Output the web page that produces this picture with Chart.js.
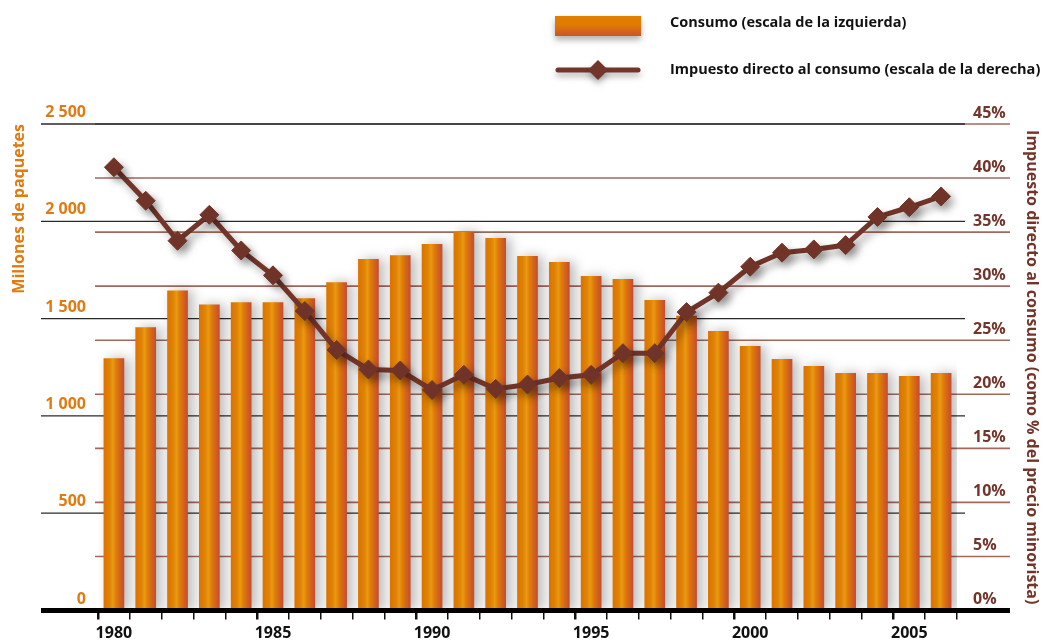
<!DOCTYPE html>
<html>
<head>
<meta charset="utf-8">
<script src="https://cdn.jsdelivr.net/npm/chart.js@4"></script>
<style>
  html, body { margin: 0; padding: 0; background: #fff; }
  #wrap { width: 1044px; height: 641px; position: relative; }
</style>
</head>
<body>
<div id="wrap"><canvas id="myChart"></canvas></div>
<script>
// data
const years = [1980, 1981, 1982, 1983, 1984, 1985, 1986, 1987, 1988, 1989,
  1990, 1991, 1992, 1993, 1994, 1995, 1996, 1997, 1998, 1999,
  2000, 2001, 2002, 2003, 2004, 2005, 2006];
const consumo = [1296, 1455, 1645, 1573, 1584, 1584, 1604, 1687, 1806, 1825,
  1883, 1945, 1914, 1822, 1791, 1719, 1703, 1596, 1515, 1436,
  1359, 1292, 1256, 1220, 1220, 1205, 1220];
const impuesto = [41.0, 37.9, 34.2, 36.6, 33.3, 31.0, 27.7, 24.1, 22.3, 22.2,
  20.4, 21.8, 20.5, 20.9, 21.5, 21.8, 23.8, 23.8, 27.6, 29.4,
  31.8, 33.1, 33.4, 33.8, 36.4, 37.3, 38.3];
const leftTicks = [0, 500, 1000, 1500, 2000, 2500];
const rightTicks = [0, 5, 10, 15, 20, 25, 30, 35, 40, 45];

const orange = '#e07b12';
const brown = '#73352a';
Chart.defaults.font.family = "'Open Sans', sans-serif";

function thousands(v) {
  return String(v).replace(/\B(?=(\d{3})+(?!\d))/g, ' ');
}

function barGradient(c) {
  const chart = c.chart;
  const xs = chart.scales.x;
  if (!xs || !chart.chartArea) return '#e07800';
  const cx = xs.getPixelForValue(c.dataIndex);
  const w = (xs.width / years.length) * 0.65;
  const g = chart.ctx.createLinearGradient(cx - w / 2, 0, cx + w / 2, 0);
  g.addColorStop(0, '#db7200');
  g.addColorStop(0.3, '#e08306');
  g.addColorStop(0.45, '#e99a12');
  g.addColorStop(0.6, '#e07d08');
  g.addColorStop(0.82, '#d2601f');
  g.addColorStop(1, '#c44c30');
  return g;
}

// grid lines of both scales, with their own extents, and the thick base line
const refGrid = {
  id: 'refGrid',
  beforeDatasetsDraw(chart) {
    const {ctx, chartArea: a} = chart;
    const yl = chart.scales.yL, yr = chart.scales.yR;
    ctx.save();
    ctx.strokeStyle = '#a3685c';
    ctx.lineWidth = 1.6;
    rightTicks.forEach(v => {
      if (v === 0) return;
      const y = yr.getPixelForValue(v);
      ctx.beginPath(); ctx.moveTo(a.left - 3, y); ctx.lineTo(a.right + 53, y); ctx.stroke();
    });
    ctx.strokeStyle = '#2a2a2a';
    ctx.lineWidth = 1.3;
    leftTicks.forEach(v => {
      if (v === 0) return;
      const y = yl.getPixelForValue(v);
      ctx.beginPath(); ctx.moveTo(a.left - 57, y); ctx.lineTo(a.right + 8, y); ctx.stroke();
    });
    ctx.restore();
  },
  afterDatasetsDraw(chart) {
    const {ctx, chartArea: a} = chart;
    const y = chart.scales.yL.getPixelForValue(0);
    ctx.save();
    ctx.strokeStyle = '#000';
    ctx.lineWidth = 5;
    ctx.beginPath(); ctx.moveTo(a.left - 57, y); ctx.lineTo(a.right + 53, y); ctx.stroke();
    ctx.restore();
  }
};

// soft drop shadows under bars and line
const shadows = {
  id: 'shadows',
  beforeDatasetDraw(chart, args) {
    const ctx = chart.ctx;
    const isLine = chart.data.datasets[args.index].type === 'line';
    ctx.save();
    ctx.shadowColor = isLine ? 'rgba(0,0,0,0.35)' : 'rgba(0,0,0,0.28)';
    ctx.shadowBlur = isLine ? 8 : 12;
    ctx.shadowOffsetX = isLine ? 4 : 5;
    ctx.shadowOffsetY = isLine ? 5 : 0;
  },
  afterDatasetDraw(chart) {
    chart.ctx.restore();
  }
};

const refLegend = {
  id: 'refLegend',
  afterDraw(chart) {
    const ctx = chart.ctx;
    const lineDs = chart.data.datasets[0], barDs = chart.data.datasets[1];
    ctx.save();
    ctx.shadowColor = 'rgba(0,0,0,0.3)';
    ctx.shadowBlur = 6;
    ctx.shadowOffsetY = 4;
    const g = ctx.createLinearGradient(0, 16, 0, 36);
    g.addColorStop(0, '#e27e00');
    g.addColorStop(0.45, '#e07a04');
    g.addColorStop(1, '#c9542d');
    ctx.fillStyle = g;
    ctx.fillRect(555, 16, 86, 20);
    ctx.strokeStyle = brown;
    ctx.lineWidth = 5;
    ctx.lineCap = 'round';
    ctx.beginPath(); ctx.moveTo(558, 70); ctx.lineTo(638, 70); ctx.stroke();
    ctx.fillStyle = brown;
    ctx.beginPath();
    ctx.moveTo(598, 60); ctx.lineTo(608, 70); ctx.lineTo(598, 80); ctx.lineTo(588, 70);
    ctx.closePath(); ctx.fill();
    ctx.shadowColor = 'transparent';
    ctx.fillStyle = '#111';
    ctx.font = "bold 14.5px 'Open Sans', sans-serif";
    ctx.textBaseline = 'middle';
    ctx.fillText(barDs.label, 670, 23);
    ctx.fillText(lineDs.label, 670, 70);
    ctx.restore();
  }
};

const ctx = document.getElementById('myChart').getContext('2d');
const myChart = new Chart(ctx, {
  type: 'bar',
  data: {
    labels: years,
    datasets: [{
      type: 'line',
      label: 'Impuesto directo al consumo (escala de la derecha)',
      data: impuesto,
      yAxisID: 'yR',
      borderColor: brown,
      borderWidth: 5,
      pointStyle: 'rectRot',
      pointRadius: 9.5,
      pointBackgroundColor: brown,
      pointBorderColor: brown,
      pointBorderWidth: 1,
      tension: 0,
      order: 0
    }, {
      type: 'bar',
      label: 'Consumo (escala de la izquierda)',
      data: consumo,
      yAxisID: 'yL',
      backgroundColor: barGradient,
      barPercentage: 0.65,
      categoryPercentage: 1,
      order: 1
    }]
  },
  options: {
    responsive: true,
    maintainAspectRatio: false,
    animation: false,
    layout: { padding: { top: 124, left: 0, right: 0, bottom: 0 } },
    plugins: {
      legend: { display: false },
      tooltip: { enabled: false }
    },
    scales: {
      x: {
        grid: {
          display: true, drawOnChartArea: false, drawTicks: true, tickLength: 9, offset: true,
          color: '#111', lineWidth: c => (c.index % 5 === 0 ? 2.5 : 1.5)
        },
        border: { display: false },
        ticks: {
          autoSkip: false, maxRotation: 0, padding: 4, color: '#111',
          font: { size: 16, weight: 'bold' },
          callback: (v, i) => (years[i] % 5 === 0 ? String(years[i]) : '')
        },
        afterFit: s => { s.height = 30.5; }
      },
      yL: {
        position: 'left', min: 0, max: 2500,
        grid: { display: false, drawTicks: false },
        border: { display: false },
        ticks: {
          stepSize: 500, padding: 12, labelOffset: -11.5, color: orange,
          font: { size: 16, weight: 'bold' },
          callback: v => thousands(v)
        },
        title: {
          display: true, text: 'Millones de paquetes', align: 'end', color: orange,
          font: { size: 16, weight: 'bold' }, padding: { top: 10, bottom: 0 }
        },
        afterFit: s => { s.width = 98; }
      },
      yR: {
        position: 'right', min: 0, max: 45,
        grid: { display: false, drawTicks: false },
        border: { display: false },
        ticks: {
          stepSize: 5, padding: 16, labelOffset: -11, color: brown,
          font: { size: 16, weight: 'bold' },
          callback: v => v + '%'
        },
        title: {
          display: true, text: 'Impuesto directo al consumo (como % del precio minorista)', color: brown,
          font: { size: 16, weight: 'bold' }, padding: { top: 3, bottom: 0 }
        },
        afterFit: s => { s.width = 87; }
      }
    }
  },
  plugins: [refGrid, shadows, refLegend]
});
</script>
</body>
</html>
